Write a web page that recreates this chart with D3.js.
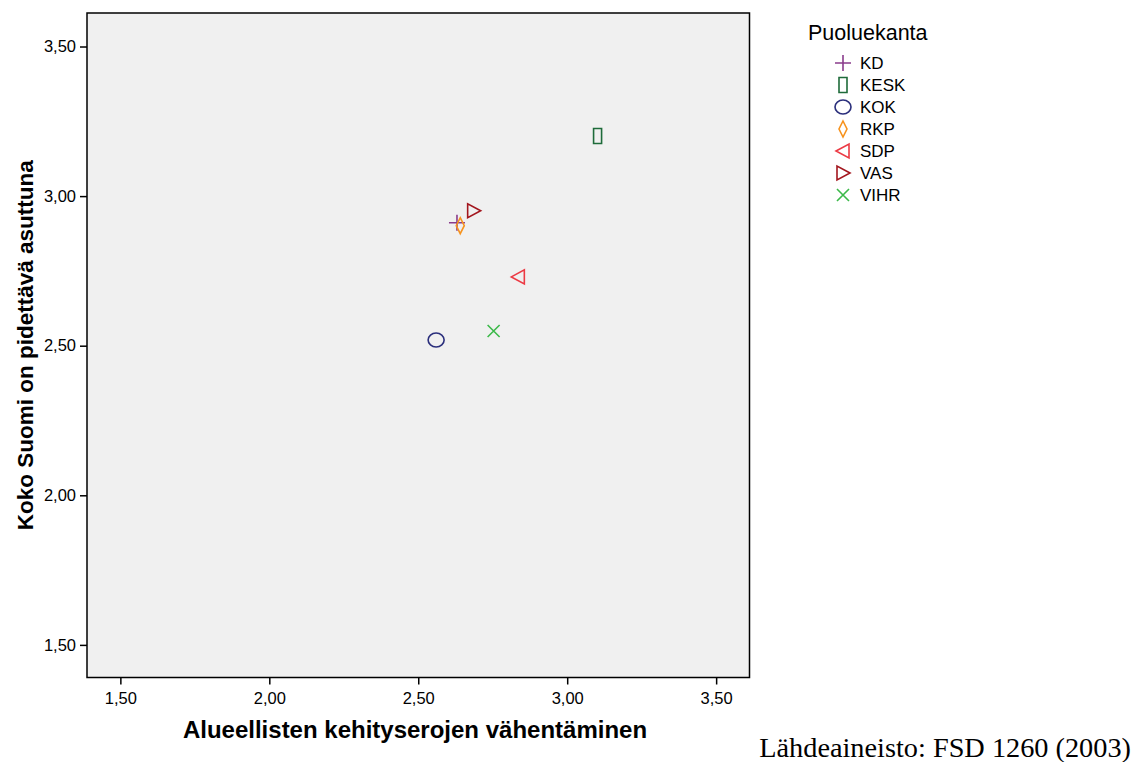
<!DOCTYPE html>
<html><head><meta charset="utf-8">
<script src="https://cdn.jsdelivr.net/npm/d3@7"></script>
<style>
html,body{margin:0;padding:0;background:#fff;}
svg{display:block;font-family:"Liberation Sans",Arial,sans-serif;}
</style></head>
<body><svg id="c" width="1141" height="762"></svg>
<script>
const parties = ["KD","KESK","KOK","RKP","SDP","VAS","VIHR"];
const xValues = [2.630, 3.102, 2.560, 2.641, 2.836, 2.686, 2.753];
const yValues = [2.911, 3.201, 2.519, 2.901, 2.730, 2.951, 2.549];
const partyColors = ["#8a3c8c","#1e6b3a","#2b2f7c","#f7931e","#ec3a44","#a3161e","#3cb94a"];
const tickValues = [1.5, 2.0, 2.5, 3.0, 3.5];
const xTitle = "Alueellisten kehityserojen vähentäminen";
const yTitle = "Koko Suomi on pidettävä asuttuna";
const legendTitle = "Puoluekanta";
const sourceText = "Lähdeaineisto: FSD 1260 (2003)";

const svg = d3.select("#c");
const L = 87, R = 749.5, T = 13, B = 677.5;
const x = d3.scaleLinear().domain([1.388, 3.612]).range([L, R]);
const y = d3.scaleLinear().domain([1.391, 3.612]).range([B, T]);
const fmt = d => d.toFixed(2).replace(".", ",");

svg.append("rect").attr("x", L).attr("y", T).attr("width", R - L).attr("height", B - T)
  .attr("fill", "#f0f0f0").attr("stroke", "#000").attr("stroke-width", 1.5);

const xa = svg.append("g").attr("transform", `translate(0,${B})`)
  .call(d3.axisBottom(x).tickValues(tickValues).tickFormat(fmt).tickSize(7).tickPadding(8));
const ya = svg.append("g").attr("transform", `translate(${L},0)`)
  .call(d3.axisLeft(y).tickValues(tickValues).tickFormat(fmt).tickSize(7).tickPadding(4));
[xa, ya].forEach(a => {
  a.select(".domain").remove();
  a.selectAll("line").attr("stroke", "#000").attr("stroke-width", 1.5);
  a.selectAll("text").attr("font-size", 16.5).attr("fill", "#000")
    .attr("font-family", "'Liberation Sans',Arial,sans-serif");
});

svg.append("text").attr("x", 415).attr("y", 738).attr("text-anchor", "middle")
  .attr("font-size", 24).attr("font-weight", "bold").text(xTitle);
svg.append("text").attr("transform", `translate(33,${(T + B) / 2}) rotate(-90)`)
  .attr("text-anchor", "middle").attr("font-size", 22.5).attr("font-weight", "bold").text(yTitle);

function marker(i) {
  switch (parties[i]) {
    case "KD": return "M-8,0H8M0,-8V8";
    case "KESK": return "M-4,-7.5H4V7.5H-4Z";
    case "KOK": return "M-8,0A8,7 0 1,0 8,0A8,7 0 1,0 -8,0Z";
    case "RKP": return "M0,-8L4,0L0,8L-4,0Z";
    case "SDP": return "M-7,0L6,-7V7Z";
    case "VAS": return "M7,0L-6,-7V7Z";
    case "VIHR": return "M-6,-6L6,6M-6,6L6,-6";
  }
}

const pts = svg.append("g");
parties.forEach((p, i) => {
  pts.append("path").attr("d", marker(i))
    .attr("transform", `translate(${x(xValues[i])},${y(yValues[i])})`)
    .attr("fill", "none").attr("stroke", partyColors[i]).attr("stroke-width", 1.6);
});

const lg = svg.append("g");
lg.append("text").attr("x", 808).attr("y", 40).attr("font-size", 21.5).text(legendTitle);
parties.forEach((p, i) => {
  const cy = 63 + i * 22;
  lg.append("path").attr("d", marker(i)).attr("transform", `translate(843,${cy})`)
    .attr("fill", "none").attr("stroke", partyColors[i]).attr("stroke-width", 1.6);
  lg.append("text").attr("x", 860).attr("y", cy + 6).attr("font-size", 17).text(p);
});

svg.append("text").attr("x", 1131).attr("y", 757).attr("text-anchor", "end")
  .attr("font-family", "'Liberation Serif','Times New Roman',serif").attr("font-size", 28.3)
  .text(sourceText);
</script></body></html>
